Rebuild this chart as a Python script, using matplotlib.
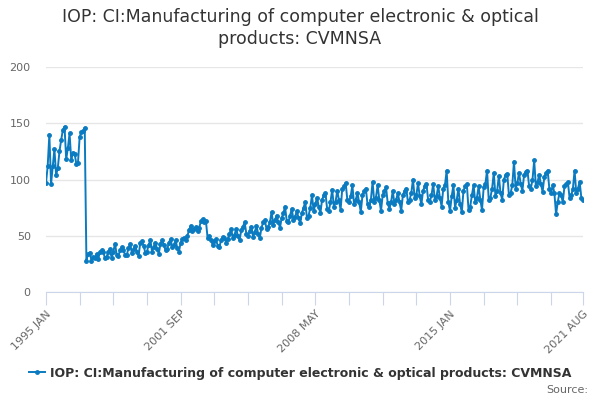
import matplotlib
matplotlib.use("Agg")
import matplotlib.pyplot as plt
from matplotlib.lines import Line2D

title = "IOP: CI:Manufacturing of computer electronic & optical\nproducts: CVMNSA"
series_name = "IOP: CI:Manufacturing of computer electronic & optical products: CVMNSA"

months = ["JAN", "FEB", "MAR", "APR", "MAY", "JUN", "JUL", "AUG", "SEP", "OCT", "NOV", "DEC"]

v1995 = [97, 112, 140, 96, 112, 127, 104, 110, 125, 135, 144, 147]
v1996 = [118, 128, 141, 117, 124, 123, 114, 115, 138, 142, 143, 146]
v1997 = [28, 34, 35, 28, 31, 30, 34, 29, 36, 37, 36, 30]
v1998 = [31, 36, 38, 30, 36, 43, 33, 32, 37, 40, 37, 33]
v1999 = [33, 39, 43, 35, 38, 41, 36, 32, 44, 45, 41, 35]
v2000 = [36, 42, 46, 36, 40, 44, 38, 34, 43, 46, 42, 37]
v2001 = [38, 44, 47, 40, 42, 46, 39, 36, 44, 47, 48, 46]
v2002 = [50, 55, 59, 54, 56, 58, 54, 57, 63, 65, 62, 63]
v2003 = [48, 50, 46, 42, 45, 47, 41, 40, 46, 49, 48, 44]
v2004 = [47, 52, 56, 48, 51, 56, 50, 46, 55, 58, 62, 52]
v2005 = [50, 54, 58, 49, 53, 59, 52, 48, 57, 62, 64, 56]
v2006 = [58, 62, 71, 60, 64, 68, 62, 57, 66, 70, 76, 63]
v2007 = [62, 68, 74, 64, 67, 72, 66, 61, 70, 75, 80, 66]
v2008 = [68, 75, 86, 72, 78, 84, 76, 70, 82, 86, 88, 74]
v2009 = [72, 80, 91, 76, 80, 90, 82, 73, 92, 94, 97, 82]
v2010 = [80, 85, 95, 78, 82, 88, 80, 71, 86, 90, 92, 78]
v2011 = [76, 82, 98, 80, 84, 95, 82, 72, 86, 90, 93, 79]
v2012 = [74, 80, 90, 78, 82, 88, 80, 72, 86, 90, 92, 80]
v2013 = [82, 88, 100, 84, 86, 97, 85, 78, 90, 94, 96, 82]
v2014 = [80, 86, 96, 82, 85, 94, 84, 76, 92, 95, 108, 80]
v2015 = [72, 85, 95, 75, 82, 92, 78, 71, 90, 94, 96, 73]
v2016 = [76, 86, 95, 80, 84, 94, 82, 73, 93, 96, 108, 82]
v2017 = [84, 92, 106, 85, 90, 103, 88, 82, 100, 104, 105, 86]
v2018 = [88, 95, 116, 92, 97, 106, 96, 90, 104, 107, 108, 94]
v2019 = [92, 100, 117, 94, 98, 104, 96, 89, 102, 106, 108, 92]
v2020 = [88, 95, 88, 69, 80, 88, 86, 80, 94, 96, 98, 84]
v2021 = [86, 92, 108, 88, 92, 98, 84, 82]

years = list(range(1995, 2022))
yearly = [v1995, v1996, v1997, v1998, v1999, v2000, v2001, v2002, v2003, v2004,
          v2005, v2006, v2007, v2008, v2009, v2010, v2011, v2012, v2013, v2014,
          v2015, v2016, v2017, v2018, v2019, v2020, v2021]

values = []
labels = []
for yr, vals in zip(years, yearly):
    for m, v in zip(months, vals):
        values.append(v)
        labels.append(f"{yr} {m}")

n = len(values)
x = list(range(n))

fig = plt.figure(figsize=(6, 4), dpi=100)
ax = fig.add_axes([46/600, 1-292/400, (583-46)/600, (292-67)/400])

blue = "#0b7bc1"
ax.plot(x, values, color=blue, lw=1.4, marker="o", ms=2.5, mec=blue, mfc=blue, zorder=3)

ax.set_xlim(0, n - 1)
ax.set_ylim(0, 200)
ax.set_yticks([0, 50, 100, 150, 200])
ax.grid(axis="y", color="#e6e6e6", lw=1)
ax.set_axisbelow(True)
for s in ["top", "right", "left"]:
    ax.spines[s].set_visible(False)
ax.spines["bottom"].set_color("#ccd6eb")
ax.tick_params(axis="y", length=0, labelsize=8, labelcolor="#666666", pad=11)

major = list(range(0, n, 20)) + [n - 1]
ax.set_xticks(major)
ax.set_xticklabels([labels[i] if i in (0, 80, 160, 240, n - 1) else "" for i in major],
                   rotation=45, ha="right", rotation_mode="anchor",
                   fontsize=8, color="#666666")
ax.tick_params(axis="x", length=9, color="#ccd6eb", pad=3)

fig.text(0.5, 0.93, title, ha="center", va="center", fontsize=12.5, color="#333333",
         linespacing=1.3)

handle = Line2D([], [], color=blue, lw=1.4, marker="o", ms=2.5)
fig.legend([handle], [series_name], loc="center", bbox_to_anchor=(0.5, 1-373/400),
           frameon=False, handlelength=1.3, handletextpad=0.4,
           prop={"size": 9.0, "weight": "bold"}, labelcolor="#333333")
fig.text(588/600, 1-390/400, "Source:", ha="right", va="center", fontsize=8, color="#666666")

fig.savefig("out.png", dpi=100)
